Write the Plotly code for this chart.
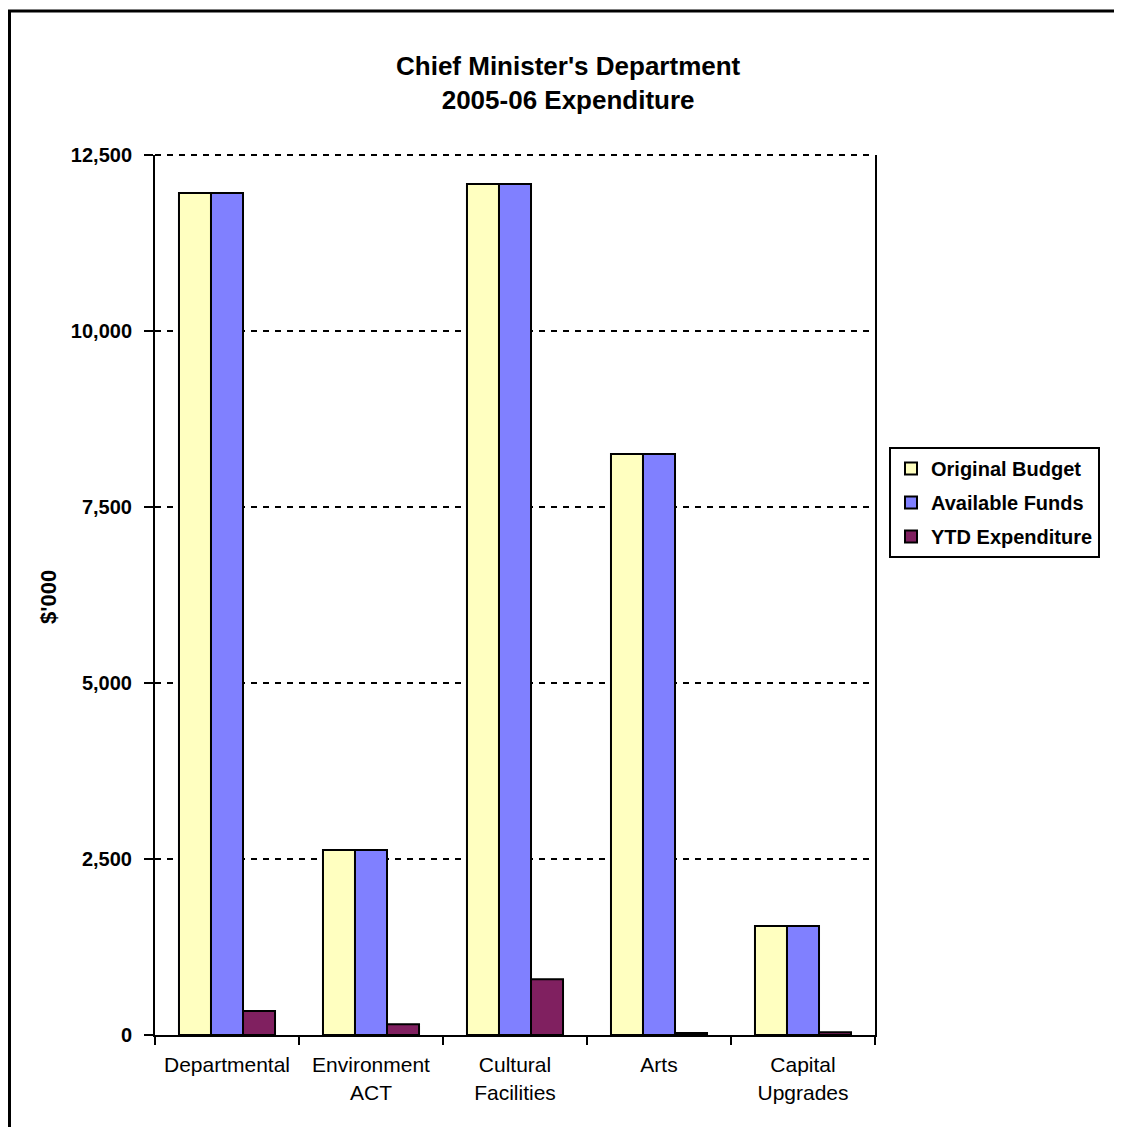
import plotly.graph_objects as go

categories = ["Departmental", "Environment<br>ACT", "Cultural<br>Facilities", "Arts", "Capital<br>Upgrades"]
original_budget = [11960, 2628, 12088, 8253, 1548]
available_funds = [11960, 2628, 12088, 8253, 1548]
ytd_expenditure = [341, 152, 791, 28, 40]
series_names = ["Original Budget", "Available Funds", "YTD Expenditure"]
series_colors = ["#FFFFC0", "#8080FF", "#802060"]
y_ticks = [0, 2500, 5000, 7500, 10000, 12500]
y_tick_labels = ["0", "2,500", "5,000", "7,500", "10,000", "12,500"]

FONT = "Liberation Sans, Arial, Helvetica, sans-serif"

fig = go.Figure()
for name, vals, col in zip(series_names, [original_budget, available_funds, ytd_expenditure], series_colors):
    fig.add_trace(go.Bar(
        x=categories, y=vals, name=name, legendgroup=name,
        marker=dict(color=col, line=dict(color="black", width=2)),
    ))

OFF = 8  # page body margin
W, H = 1122 - OFF, 1127 - OFF
# plot area in page pixels
L, R, T, B = 155, 875, 155, 1035
pw, ph = R - L, B - T

def px_x(px):
    return (px - L) / pw

def px_y(py):
    return (B - py) / ph

fig.update_layout(
    width=W, height=H,
    margin=dict(l=L - OFF, r=W - (R - OFF), t=T - OFF, b=H - (B - OFF), pad=0),
    paper_bgcolor="white", plot_bgcolor="white",
    barmode="group", bargap=0.333, bargroupgap=0,
    font=dict(family=FONT, color="black"),
    showlegend=True,
    legend=dict(
        x=px_x(889), y=px_y(447), xanchor="left", yanchor="top",
        bordercolor="black", borderwidth=2, bgcolor="white",
        font=dict(family=FONT, size=20, color="black", weight="bold"),
        tracegroupgap=5, traceorder="grouped",
    ),
    xaxis=dict(
        showline=True, linecolor="black", linewidth=2,
        ticks="outside", ticklen=8, tickwidth=2, tickcolor="black",
        tickson="boundaries",
        tickfont=dict(family=FONT, size=21, color="black"),
        showgrid=False, fixedrange=True, ticklabelstandoff=10,
    ),
    yaxis=dict(
        range=[0, 12500], tickvals=y_ticks, ticktext=y_tick_labels,
        showline=True, mirror=True, linecolor="black", linewidth=2,
        ticks="outside", ticklen=9, tickwidth=2, tickcolor="black",
        tickfont=dict(family=FONT, size=20, color="black", weight="bold"),
        showgrid=True, gridcolor="black", gridwidth=2, griddash="6px,6px",
        zeroline=False, ticklabelstandoff=8,
    ),
    annotations=[
        dict(text="Chief Minister's Department<br>2005-06 Expenditure",
             xref="paper", yref="paper", x=px_x(568), y=px_y(83),
             xanchor="center", yanchor="middle", showarrow=False,
             font=dict(family=FONT, size=26, color="black", weight="bold")),
        dict(text="$'000", xref="paper", yref="paper", x=px_x(48), y=px_y(597),
             xanchor="center", yanchor="middle", textangle=-90, showarrow=False,
             font=dict(family=FONT, size=22, color="black", weight="bold")),
    ],
    shapes=[
        dict(type="rect", xref="paper", yref="paper",
             x0=px_x(9.5), x1=px_x(1140), y0=px_y(1145), y1=px_y(11),
             line=dict(color="black", width=3), fillcolor="rgba(0,0,0,0)", layer="below"),
        dict(type="line", xref="paper", yref="paper",
             x0=0, x1=1, y0=1, y1=1,
             line=dict(color="black", width=2, dash="6px,6px"), layer="above"),
    ],
)

fig.write_html("out.html")
